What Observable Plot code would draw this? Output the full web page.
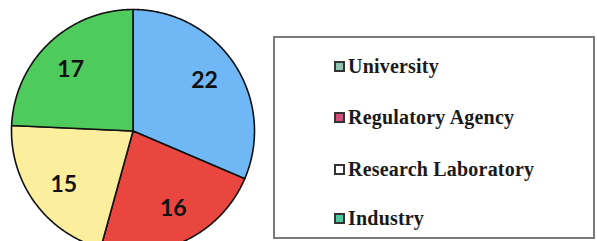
<!DOCTYPE html>
<html>
<head>
<meta charset="utf-8">
<script src="https://cdn.jsdelivr.net/npm/d3@7"></script>
<script src="https://cdn.jsdelivr.net/npm/@observablehq/plot@0.6"></script>
<style>
  html, body { margin: 0; padding: 0; background: #fff; overflow: hidden; }
</style>
</head>
<body>
<div id="wrap" style="position:relative;width:597px;height:241px"><div id="chart"></div><div id="legend" style="position:absolute;left:273px;top:36px;width:318px;height:199px;border:2px solid #7a7a7a;background:#fff"></div></div>
<script>
const categories = ["University", "Regulatory Agency", "Research Laboratory", "Industry"];
const values = [22, 16, 15, 17];
const sliceColors = ["#70b7f6", "#e8463f", "#fbee9c", "#4fca5c"];
const legendColors = ["#8fc4b0", "#cf4f78", "#ffffff", "#4fc6a0"];

const data = categories.map((c, i) => ({category: c, value: values[i]}));
const arcs = d3.pie().sort(null).value(d => d.value)(data);

// polygon vertices derived from pie angles (unit circle, y up)
const poly = [];
arcs.forEach(a => {
  const n = Math.max(2, Math.ceil((a.endAngle - a.startAngle) / 0.01));
  poly.push({category: a.data.category, x: 0, y: 0});
  for (let k = 0; k <= n; k++) {
    const t = a.startAngle + (a.endAngle - a.startAngle) * k / n;
    poly.push({category: a.data.category, x: Math.sin(t), y: Math.cos(t)});
  }
  poly.push({category: a.data.category, x: 0, y: 0});
});
const labels = arcs.map(a => {
  const m = (a.startAngle + a.endAngle) / 2;
  return {label: String(a.data.value), x: 0.72 * Math.sin(m - 0.03), y: 0.72 * Math.cos(m - 0.03)};
});

const cx = 132.5, cy = 130.5, r = 121.5;
const plot = Plot.plot({
  width: 597, height: 241, margin: 0,
  x: {domain: [-1, 1], range: [cx - r, cx + r], axis: null},
  y: {domain: [-1, 1], range: [cy + r, cy - r], axis: null},
  color: {domain: categories, range: sliceColors},
  style: {overflow: "visible", background: "transparent"},
  marks: [
    Plot.line(poly, {x: "x", y: "y", z: "category", fill: "category", stroke: "#111", strokeWidth: 1.6, curve: "linear", strokeLinejoin: "round"}),
    Plot.text(labels, {x: "x", y: "y", text: "label", fontSize: 23, fontWeight: "bold", fontFamily: "Lato, sans-serif", fill: "#111"})
  ]
});
document.getElementById("chart").appendChild(plot);

const rowCenters = [28, 79, 131, 180];
document.getElementById("legend").innerHTML = categories.map((c, i) =>
  `<div class="lrow" style="position:absolute;left:59px;top:${rowCenters[i] - 15}px;height:30px;display:flex;align-items:center;font-weight:bold;font-size:20px;color:#1a1a1a;letter-spacing:0.2px">` +
  `<span style="display:inline-block;width:7px;height:7px;border:2px solid #333;margin-right:3px;background:${legendColors[i]}"></span><span class="ltx">${c}</span></div>`
).join("");
document.querySelectorAll("#legend .lrow, #legend .ltx").forEach(el =>
  el.style.setProperty("font-family", "'Liberation Serif', 'Times New Roman', serif", "important"));
</script>
</body>
</html>
